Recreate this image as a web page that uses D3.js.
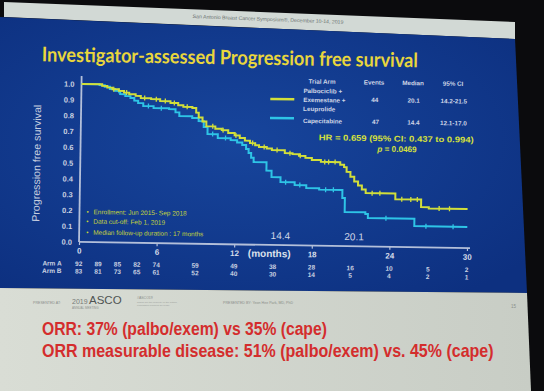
<!DOCTYPE html>
<html><head><meta charset="utf-8">
<script src="https://cdn.jsdelivr.net/npm/d3@7"></script>
<style>html,body{margin:0;padding:0;background:#0b0b0d;}svg{display:block;}</style>
</head><body>
<svg id="chart" width="544" height="391"></svg>
<script>
// ---------------- data ----------------
const monthTicks = [0, 6, 12, 18, 24, 30];
const survivalTicks = [0, 0.1, 0.2, 0.3, 0.4, 0.5, 0.6, 0.7, 0.8, 0.9, 1.0];

// Arm A: Palbociclib + Exemestane + Leuprolide (step times in months, survival after step)
const palboTimes = [0,1.6,2.0,2.4,2.9,3.3,3.7,4.2,4.6,5.4,6.1,6.9,7.5,7.9,8.6,8.9,9.1,9.4,9.7,10.4,10.9,11.4,11.9,12.3,12.7,13.1,13.5,13.8,14.4,14.8,15.8,16.4,16.9,17.4,17.9,18.6,20.1,20.4,20.6,20.9,21.2,21.5,21.8,22.1,24.4,26.4,27.0];
const palboSurv  = [1.0,0.99,0.98,0.97,0.96,0.95,0.94,0.93,0.917,0.911,0.90,0.889,0.875,0.866,0.859,0.83,0.80,0.775,0.745,0.73,0.722,0.705,0.69,0.674,0.658,0.643,0.63,0.619,0.61,0.601,0.583,0.577,0.567,0.555,0.542,0.531,0.515,0.50,0.47,0.44,0.41,0.385,0.36,0.338,0.302,0.255,0.247];
const palboCensor = [2.5,3.5,4.9,5.8,6.5,7.2,8.2,10.2,11.0,12.0,13.3,14.2,15.2,16.2,17.0,18.9,19.2,19.7,22.6,23.2,24.9,25.6,26.1,27.8,28.6];

// Arm B: Capecitabine
const capeTimes = [0,1.4,1.8,2.2,2.6,3.0,3.4,3.8,4.1,4.4,4.8,5.6,6.8,7.3,7.6,8.6,9.1,9.5,9.8,10.6,11.6,12.1,12.5,12.8,13.0,13.2,13.4,14.4,14.8,15.5,16.6,17.5,18.5,20.3,20.5,22.1,22.3,25.9];
const capeSurv  = [1.0,0.995,0.985,0.971,0.96,0.94,0.928,0.916,0.90,0.885,0.867,0.855,0.85,0.83,0.807,0.796,0.777,0.74,0.696,0.672,0.66,0.645,0.63,0.605,0.58,0.55,0.523,0.47,0.43,0.399,0.382,0.364,0.355,0.304,0.216,0.205,0.18,0.134];
const capeCensor = [2.9,5.2,6.2,10.2,11.2,15.9,17.0,19.0,19.6,23.7,26.8,28.9];

const followUpEnd = 30;

// number at risk
const riskTimes = [0,1.5,3,4.5,6,9,12,15,18,21,24,27,30];
const riskArmA  = [92,89,85,82,74,59,49,38,28,16,10,5,2];
const riskArmB  = [83,81,73,65,61,52,40,30,14,5,4,2,1];

// legend table
const legendHeaders = ["Trial Arm","Events","Median","95% CI"];
const armNames  = [["Palbociclib +","Exemestane +","Leuprolide"],["Capecitabine"]];
const armEvents = ["44","47"];
const armMedian = ["20.1","14.4"];
const armCI     = ["14.2-21.5","12.1-17.0"];
const medianLabels = [14.4, 20.1];

const notes = ["Enrollment: Jun 2015- Sep 2018","Data cut-off: Feb 1, 2019","Median follow-up duration : 17 months"];

// ---------------- drawing ----------------
const svg = d3.select("#chart");
const defs = svg.append("defs");
const rg = defs.append("radialGradient").attr("id","blueg").attr("cx","45%").attr("cy","45%").attr("r","70%");
rg.append("stop").attr("offset","0%").attr("stop-color","#17459c");
rg.append("stop").attr("offset","100%").attr("stop-color","#0d3080");
const lg = defs.append("linearGradient").attr("id","lowg").attr("x1","0").attr("x2","1");
lg.append("stop").attr("offset","0%").attr("stop-color","#d9ddd5");
lg.append("stop").attr("offset","100%").attr("stop-color","#c8cdc5");

svg.append("rect").attr("width",544).attr("height",391).attr("fill","#0b0b0d");
const poly = pts => "M" + pts.map(p => p.join(",")).join("L") + "Z";
svg.append("path").attr("d", poly([[4,2],[515,22],[515,39],[4,17]])).attr("fill","#d2d9d5");
svg.append("path").attr("d", poly([[0,17],[515,39],[527,293],[0,288]])).attr("fill","url(#blueg)");
svg.append("path").attr("d", poly([[0,288],[527,293],[531,391],[0,391]])).attr("fill","url(#lowg)");
svg.append("text").attr("x",268).attr("y",21).attr("text-anchor","middle")
  .attr("transform","rotate(2.2,268,21)")
  .attr("font-family","Liberation Sans, Arial").attr("font-size",5.2).attr("fill","#6d7472")
  .text("San Antonio Breast Cancer Symposium®, December 10-14, 2019");

// fit a text horizontally to a target width by scaling (keeps glyph height)
function fitText(parent, txt, x0, y0, width, attrs){
  const t = parent.append("text").attr("x",0).attr("y",0).text(txt);
  Object.entries(attrs).forEach(([k,v]) => t.attr(k,v));
  const w = t.node().getComputedTextLength();
  const k = width / w;
  t.attr("transform",`translate(${x0},${y0}) scale(${k},1)`);
  return t;
}

const g = svg.append("g").attr("transform","rotate(0.9,273,245)");

// title
fitText(g, "Investigator-assessed Progression free survival", 39, 65, 376, {
  "font-family":"Lato, 'Open Sans', sans-serif","font-weight":"bold","font-size":20,"fill":"#e9d63c"});

const x = d3.scaleLinear().domain([0,30]).range([79,467]);
const y = d3.scaleLinear().domain([0,1]).range([245,87]);

const axisColor = "#b4c0da";
g.append("line").attr("x1",x(0)).attr("x2",x(30)+3).attr("y1",y(0)).attr("y2",y(0))
  .attr("stroke",axisColor).attr("stroke-width",1.8);
g.append("line").attr("x1",x(0)).attr("x2",x(0)).attr("y1",y(0)).attr("y2",y(1.05))
  .attr("stroke",axisColor).attr("stroke-width",1.8);

const xAxis = g.append("g").attr("transform",`translate(0,${y(0)})`)
  .call(d3.axisBottom(x).tickValues(monthTicks).tickSize(3).tickSizeOuter(0).tickPadding(3));
xAxis.select(".domain").remove();
xAxis.selectAll("line").attr("stroke",axisColor).attr("stroke-width",1.2);
xAxis.selectAll("text").attr("fill","#d4dbe8").attr("font-family","Liberation Sans, Arial")
  .attr("font-weight","bold").attr("font-size",8);
g.append("text").attr("x",248).attr("y",257).attr("font-family","Liberation Sans, Arial")
  .attr("font-weight","bold").attr("font-size",10).attr("fill","#dde2ec").text("(months)");

const yAxis = g.append("g").attr("transform",`translate(${x(0)},0)`)
  .call(d3.axisLeft(y).tickValues(survivalTicks).tickFormat(d3.format(".1f")).tickSize(0).tickPadding(7));
yAxis.select(".domain").remove();
yAxis.selectAll("text").attr("fill","#c8d0e0").attr("font-family","Liberation Sans, Arial")
  .attr("font-weight","bold").attr("font-size",7.5);

g.append("text").attr("transform","translate(39,167) rotate(-90)").attr("text-anchor","middle")
  .attr("font-family","Liberation Sans, Arial").attr("font-size",10.5).attr("fill","#c6cedf")
  .attr("textLength",117).attr("lengthAdjust","spacingAndGlyphs").text("Progression free survival");

// curves
const palboColor = "#d2df3a", capeColor = "#2ec4e6";
const line = d3.line().x(d => x(d[0])).y(d => y(d[1])).curve(d3.curveStepAfter);
function series(times, surv){
  const pts = times.map((t,i) => [t, surv[i]]);
  pts.push([followUpEnd, surv[surv.length-1]]);
  return pts;
}
function survAt(times, surv, t){ return surv[Math.max(0, d3.bisectRight(times, t) - 1)]; }

[[capeTimes,capeSurv,capeCensor,capeColor],[palboTimes,palboSurv,palboCensor,palboColor]].forEach(([T,S,C,col]) => {
  g.append("path").datum(series(T,S)).attr("d",line).attr("fill","none")
    .attr("stroke",col).attr("stroke-width",2);
  g.selectAll(null).data(C).enter().append("line")
    .attr("x1",d => x(d)).attr("x2",d => x(d))
    .attr("y1",d => y(survAt(T,S,d)) - 2.5).attr("y2",d => y(survAt(T,S,d)) + 2.5)
    .attr("stroke",col).attr("stroke-width",1.3);
});

// median labels
g.selectAll(null).data(medianLabels).enter().append("text")
  .attr("x",d => x(d) + 15).attr("y",239).attr("text-anchor","middle")
  .attr("font-family","Liberation Sans, Arial").attr("font-size",10).attr("fill","#d0d7e6")
  .text(d => d3.format(".1f")(d));

// notes
notes.forEach((n,i) => {
  const yy = [217,226.5,237.5][i];
  g.append("text").attr("x",86).attr("y",yy).attr("font-family","Liberation Sans, Arial")
    .attr("font-size",6.5).attr("fill","#c5d43c").text("•");
  g.append("text").attr("x",93).attr("y",yy).attr("font-family","Liberation Sans, Arial")
    .attr("font-size",6.5).attr("fill","#c5d43c").text(n);
});

// legend table
const lf = "Liberation Sans, Arial", lc = "#cfd6e6";
const colX = [319.5,371.5,410.5,450.5];
legendHeaders.forEach((h,i) => {
  g.append("text").attr("x",colX[i]).attr("y",83).attr("text-anchor","middle")
    .attr("font-family",lf).attr("font-weight","bold").attr("font-size",6.3).attr("fill",lc).text(h);
});
armNames[0].forEach((n,i) => {
  g.append("text").attr("x",301).attr("y",92.5 + i*9).attr("font-family",lf).attr("font-weight","bold")
    .attr("font-size",6.3).attr("fill",lc).text(n);
});
g.append("text").attr("x",301).attr("y",122.5).attr("font-family",lf).attr("font-weight","bold")
  .attr("font-size",6.3).attr("fill",lc).text(armNames[1][0]);
g.append("line").attr("x1",268).attr("x2",292).attr("y1",99).attr("y2",99).attr("stroke",palboColor).attr("stroke-width",2.5);
g.append("line").attr("x1",268).attr("x2",292).attr("y1",118).attr("y2",118).attr("stroke",capeColor).attr("stroke-width",2.5);
[100.5,122.5].forEach((yy,r) => {
  [armEvents[r], armMedian[r], armCI[r]].forEach((v,c) => {
    g.append("text").attr("x",colX[c+1] + (r===1 && c===0 ? 2 : 1)).attr("y",yy).attr("text-anchor","middle")
      .attr("font-family",lf).attr("font-weight","bold").attr("font-size",6.3).attr("fill",lc).text(v);
  });
});
fitText(g, "HR = 0.659 (95% CI: 0.437 to 0.994)", 317, 139.5, 155, {
  "font-family":lf,"font-weight":"bold","font-size":8.2,"fill":"#d6e03c"});
const pt = g.append("text").attr("x",395.5).attr("y",150).attr("text-anchor","middle").attr("font-family",lf)
  .attr("font-weight","bold").attr("font-size",8.2).attr("fill","#d6e03c");
pt.append("tspan").attr("font-style","italic").text("p");
pt.append("tspan").text(" = 0.0469");

// number at risk
[["Arm A",riskArmA,269],["Arm B",riskArmB,276.5]].forEach(([lab,vals,yy]) => {
  g.append("text").attr("x",62).attr("y",yy).attr("text-anchor","end").attr("font-family",lf)
    .attr("font-weight","bold").attr("font-size",6.5).attr("fill","#c8d0e0").text(lab);
  g.selectAll(null).data(vals).enter().append("text")
    .attr("x",(d,i) => x(riskTimes[i])).attr("y",yy).attr("text-anchor","middle")
    .attr("font-family",lf).attr("font-weight","bold").attr("font-size",6.5).attr("fill","#c8d0e0")
    .text(d => d);
});

// footer
const ft = (txt,xx,yy,size,col) => svg.append("text").attr("x",xx).attr("y",yy).attr("font-family",lf)
    .attr("font-size",size).attr("fill",col).text(txt);
ft("PRESENTED AT:",33,304,3.6,"#8a8e8a");
ft("2019",72,304,7,"#777b78");
ft("ASCO",89,304,11.5,"#4f5452");
ft("ANNUAL MEETING",72,309,3,"#8f938f");
ft("#ASCO19",137,299,3.5,"#8a8e8a");
ft("Slides are the property of the author,",137,303,2.5,"#9a9e9a");
ft("permission required for reuse.",137,306,2.5,"#9a9e9a");
ft("PRESENTED BY:  Yeon Hee Park, MD, PhD",223,304,3.6,"#8a8e8a");
ft("15",511,308,4.5,"#8a8e8a");

fitText(svg, "ORR: 37% (palbo/exem) vs 35% (cape)", 42, 335, 285, {
  "font-family":lf,"font-weight":"bold","font-size":18,"fill":"#d42d2d"});
fitText(svg, "ORR measurable disease: 51% (palbo/exem) vs. 45% (cape)", 42, 357, 452, {
  "font-family":lf,"font-weight":"bold","font-size":18,"fill":"#d42d2d"});
</script>
</body></html>
